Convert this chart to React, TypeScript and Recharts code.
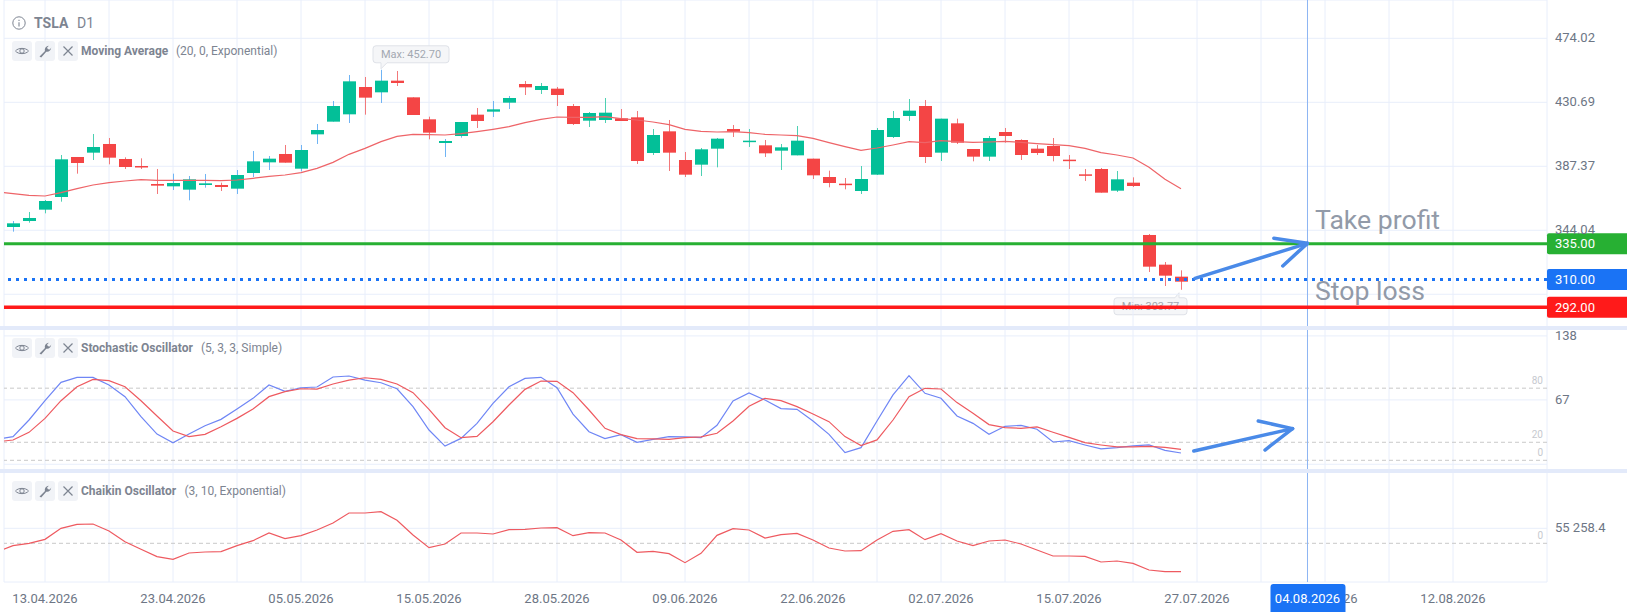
import React from 'react';
import { ComposedChart, Bar, Line, XAxis, YAxis, CartesianGrid, ReferenceLine, ReferenceDot } from 'recharts';

const openPrices = [346.26,350.32,358.00,366.57,393.66,396.59,402.46,392.30,387.56,375.38,373.79,371.54,374.70,374.70,372.22,382.82,390.04,395.69,385.75,409.00,417.58,422.54,441.05,437.44,445.34,434.05,419.16,403.13,407.87,422.32,424.35,430.44,443.08,439.02,439.92,428.18,418.25,418.71,419.83,420.51,396.36,411.03,391.62,388.46,399.30,412.61,403.81,401.55,397.94,394.78,392.53,380.11,375.60,370.63,381.69,407.19,421.42,428.18,396.59,416.45,399.07,393.88,410.58,405.16,399.30,401.10,391.85,381.92,385.53,370.86,376.28,340.85,320.76,312.64];
const closePrices = [348.75,352.36,363.86,392.08,389.59,400.43,393.20,386.88,387.11,374.25,376.05,378.53,375.83,373.35,381.47,390.72,392.52,389.82,398.39,411.93,428.18,444.88,433.83,445.34,443.76,422.09,410.13,404.48,417.35,418.03,425.93,433.60,440.82,441.73,435.63,415.98,423.44,423.67,418.03,390.95,408.55,396.59,381.69,398.85,406.07,410.80,404.71,396.14,400.20,404.71,381.24,376.05,374.70,378.76,411.93,420.06,425.03,393.66,419.61,403.36,393.88,406.52,407.87,395.01,396.36,394.33,391.17,381.24,369.51,378.53,374.02,319.41,313.31,309.25];
const highPrices = [350.32,356.42,364.54,395.01,393.66,409.23,406.52,393.43,392.75,385.53,382.37,380.79,382.15,376.28,384.85,397.72,394.33,401.78,401.78,416.00,431.57,449.17,447.82,452.70,451.88,434.05,420.96,405.84,417.35,426.83,431.57,434.95,445.11,443.76,441.05,429.54,424.12,433.60,426.15,424.80,412.61,418.71,397.04,399.75,406.52,415.32,412.61,405.16,402.46,414.64,392.53,384.40,379.44,387.56,413.29,424.80,432.92,432.25,419.61,419.61,399.07,407.87,413.29,405.62,401.78,406.52,395.01,385.53,386.21,384.18,379.89,341.52,322.56,316.92];
const lowPrices = [343.10,349.19,355.51,363.41,382.37,391.62,388.69,385.53,385.53,368.61,371.31,364.32,372.89,370.63,368.61,380.11,384.85,389.82,383.95,402.46,417.58,416.67,422.32,430.22,441.72,422.09,405.62,393.66,406.74,413.29,420.74,426.15,435.63,436.31,428.18,415.32,413.97,416.67,418.03,388.92,395.01,384.18,380.11,380.79,386.66,407.19,400.43,393.66,384.85,394.78,378.76,373.12,371.76,368.61,381.47,406.52,418.03,389.59,390.95,402.46,390.72,390.95,403.36,391.62,395.01,390.72,385.53,377.41,369.51,369.96,373.35,315.79,306.31,303.77];
const blueWickCandles = [0,10,11,12,14,15,16,18,19,20,21,23,27,28,30,31];

// index -1 is the bar just left of the visible window
const movingAverage = [370.19,368.83,367.70,367.25,369.51,372.22,374.70,376.28,377.41,378.31,377.86,377.86,377.86,377.86,377.63,378.08,379.21,380.56,381.47,383.05,385.98,390.04,395.46,399.52,404.04,407.65,409.00,408.78,408.55,409.45,410.81,412.39,414.19,416.90,419.16,420.74,420.51,420.51,420.96,419.61,418.71,417.35,415.55,412.39,411.03,410.58,410.81,410.13,409.00,408.55,408.10,406.29,403.36,400.65,398.17,399.75,401.78,404.04,403.36,404.71,404.04,403.59,403.81,404.26,403.59,402.68,402.00,401.33,399.52,396.59,395.01,392.98,386.66,378.53,372.22];
const stochK = [23.2,26.2,44.7,66.1,86.5,92,92,83.5,70.6,48.4,29.1,19.5,29.1,38.4,45.4,56.9,68.7,83.5,76.5,80.5,81.3,92.4,93.5,89,86,79.4,59.5,33.6,15.8,24.3,41,63.2,81.6,90.9,92,80.5,51.3,31.7,24,28.5,20,23.3,26.3,25.9,25.1,38.8,65.8,74.7,66.9,57.3,56.6,43.6,28.8,8.5,14,43.6,72.5,93.9,74.3,68.8,49.2,41,28.8,37.7,38.8,34.4,20.3,21.8,17,12.6,14,15.9,17,11.1,8.1];
const stochD = [20.6,22.5,31,46.5,66.1,81.6,89.8,88.3,81.6,66.1,49.1,32.5,26.2,28.8,37.3,46.5,56.9,70.6,76.1,79.4,79,84.6,89,91.6,89.8,84.6,75,56.5,36.2,25.1,26.5,42.8,61.3,78.7,87.9,87.6,75,55.8,35.5,28.5,24,23.7,23.3,25.1,25.9,30,43.6,59.9,68.8,66.2,59.5,51.4,42.9,26.3,16.3,22.6,44.7,70.6,79.9,79.1,64,52.1,39.6,36.2,35.5,37,31.1,25.5,19.6,17,14.8,14.8,15.5,14.4,12.2];
const chaikin = [-30800,-8700,-100,14600,55100,69900,71100,45300,6000,-22200,-49200,-59100,-35700,-32100,-30800,-8700,9700,37900,17100,28100,49000,74800,111600,111600,116500,84600,30600,-16100,-2600,37900,37900,34300,50200,51500,56400,57600,28100,39200,37900,12200,-33300,-29600,-38200,-71300,-37000,29300,53900,49000,19500,31800,36700,12200,-17300,-28400,-27100,12200,44100,50200,13400,35500,8500,-8700,8500,12200,-2600,-24700,-46800,-46800,-48000,-68900,-65200,-73800,-98400,-104500,-104500];

const xTicks = [-0.5625,2,6,10,14,18,22,26,30,34,38,42,46,50,54,58,62,66,70,74,78,82,86,90,95.875];
const dateLabels: Record<number,string> = {2:'13.04.2026',10:'23.04.2026',18:'05.05.2026',26:'15.05.2026',34:'28.05.2026',42:'09.06.2026',50:'22.06.2026',58:'02.07.2026',66:'15.07.2026',74:'27.07.2026',82:'04.08.2026',90:'12.08.2026'};
const priceTicks = [300.71,344.04,387.37,430.69,474.02];
const priceTickLabels = ['','344.04','387.37','430.69','474.02'];
const stochTicks = [-4.4,67,138];
const chaikinTicks = [55258.4];
const priceLevels = [
  {value:335,label:'335.00',color:'#27b033',dash:undefined as string|undefined,width:3},
  {value:310.7,label:'310.00',color:'#1a73f5',dash:'3 5',width:3},
  {value:292,label:'292.00',color:'#ff1a1a',dash:undefined as string|undefined,width:3.5},
];
const crosshairIndex = 80.906;
const crosshairLabel = '04.08.2026';
const maxLabel = 'Max: 452.70';
const minLabel = 'Min: 303.77';
const mainArrow = [[{x:73.875,y:311.5},{x:80.9,y:335.2}],[{x:78.8,y:338.6},{x:80.9,y:335.2}],[{x:79.36,y:319.9},{x:80.9,y:335.2}]];
const stochArrow = [[{x:73.8,y:10.3},{x:79.97,y:35.1}],[{x:77.83,y:43.6},{x:79.97,y:35.1}],[{x:78.25,y:11.4},{x:79.97,y:35.1}]];

const rows = movingAverage.map((ma,k)=>{
  const i=k-1;
  const row:any={index:i,ma,k:stochK[k],d:stochD[k],chaikin:chaikin[k]};
  if(i>=0){row.range=[lowPrices[i],highPrices[i]];row.open=openPrices[i];row.close=closePrices[i];row.high=highPrices[i];row.low=lowPrices[i];row.blue=blueWickCandles.includes(i);}
  return row;
});

const FONT='Roboto, sans-serif';
const GRID='#e8eefb';
const TEXT='#6d7685';
const RED='#f44545';
const GREEN='#03bf98';
const X_DOMAIN:[number,number]=[-0.5625,95.875];
const W=1627;
const PRICE_DOMAIN:[number,number]=[277.88,499.95];
const CHAIKIN_DOMAIN:[number,number]=[-142571,266353];

function Candle(p:any){
  const {x,y,width,height,payload}=p;
  if(!payload||payload.range==null||height==null)return null;
  const top=Math.min(y,y+height),h=Math.abs(height);
  const span=payload.high-payload.low||1;
  const py=(v:number)=>top+(payload.high-v)/span*h;
  const cx=Math.round(x+width/2);
  const up=payload.close>=payload.open;
  const c=up?GREEN:RED;
  const wick=payload.blue?'#6fb4f4':(up?'#4dd0b2':'#f2787a');
  const a=py(Math.max(payload.open,payload.close)),b=py(Math.min(payload.open,payload.close));
  return <g>
    <line x1={cx+0.5} x2={cx+0.5} y1={top} y2={top+h} stroke={wick} strokeWidth={1}/>
    <rect x={cx-6} y={a} width={13} height={Math.max(b-a,1.5)} fill={c}/>
  </g>;
}

const PriceTick=(p:any)=>{
  const n=priceTicks.indexOf(p.payload.value);
  return <text x={p.x} y={p.y+3.6} fontFamily={FONT} fontSize={13} fill={TEXT} textAnchor="start">{priceTickLabels[n]}</text>;
};
const StochTick=(p:any)=>p.payload.value<0?<g/>:<text x={p.x} y={p.y+3.6} fontFamily={FONT} fontSize={13} fill={TEXT} textAnchor="start">{p.payload.value}</text>;
const ChaikinTick=(p:any)=><text x={p.x} y={p.y+3.6} fontFamily={FONT} fontSize={13} fill={TEXT} textAnchor="start">55 258.4</text>;
const DateTick=(p:any)=>{
  const t=dateLabels[p.payload.value];
  return t?<text x={p.x} y={599+4-471} fontFamily={FONT} fontSize={13} fill={TEXT} textAnchor="middle">{t}</text>:<g/>;
};

const levelBadge=(label:string,color:string)=>(p:any)=>{
  const vb=p.viewBox;
  const x=vb.x+vb.width,y=vb.y;
  return <g>
    <path d={`M${x+2} ${y-10.5}H${W}V${y+10.5}H${x+2}a2 2 0 0 1 -2 -2V${y-8.5}a2 2 0 0 1 2 -2z`} fill={color}/>
    <text x={x+8} y={y+4.5} fontFamily={FONT} fontSize={13} fill="#fff">{label}</text>
  </g>;
};
const crossBadge=(p:any)=>{
  const x=p.viewBox.x;
  return <g>
    <path d={`M${x-37} 141V116a3 3 0 0 1 3 -3H${x+35}a3 3 0 0 1 3 3V141z`} fill="#1a73f5"/>
    <text x={x} y={132} textAnchor="middle" fontFamily={FONT} fontSize={13} fill="#fff">{crosshairLabel}</text>
  </g>;
};
const levelTag=(t:string)=>({value:t,position:'insideBottomRight' as const,fontSize:10,fontFamily:FONT,fill:'#c6c9cf',offset:4});

const bubble=(text:string,kind:'max'|'min')=>(p:any)=>{
  const {cx,cy}=p;
  if(kind==='max'){
    const l=cx-8,r=cx+68,t=cy-24,b=cy-7;
    return <g>
      <path d={`M${l+3} ${t}H${r-3}a3 3 0 0 1 3 3V${b-3}a3 3 0 0 1 -3 3H${l+14}L${l+8} ${b+6}L${l+8} ${b}H${l+3}a3 3 0 0 1 -3 -3V${t+3}a3 3 0 0 1 3 -3z`} fill="#f5f6f8" stroke="#dfe2e8"/>
      <text x={(l+r)/2} y={t+12.5} textAnchor="middle" fontSize={11} fontFamily={FONT} fill="#a3a8b1">{text}</text>
    </g>;
  }
  const l=cx-67,r=cx+6,t=cy+8,b=cy+25;
  return <g>
    <path d={`M${l+3} ${t}H${cx-6}L${cx-2} ${t-5}L${cx-2} ${t}H${r-3}a3 3 0 0 1 3 3V${b-3}a3 3 0 0 1 -3 3H${l+3}a3 3 0 0 1 -3 -3V${t+3}a3 3 0 0 1 3 -3z`} fill="#f5f6f8" stroke="#dfe2e8"/>
    <text x={(l+r)/2} y={t+12.5} textAnchor="middle" fontSize={11} fontFamily={FONT} fill="#a3a8b1">{text}</text>
  </g>;
};

const Eye=()=> <svg width="20" height="20" viewBox="0 0 20 20"><path d="M3.5 10C6 6.5 14 6.5 16.5 10C14 13.5 6 13.5 3.5 10Z" fill="none" stroke="#7d8491" strokeWidth="1"/><circle cx="10" cy="10" r="2.2" fill="none" stroke="#7d8491" strokeWidth="1"/></svg>;
const Wrench=()=> <svg width="20" height="20" viewBox="0 0 20 20"><path d="M4.5 15.5L10 10C9.4 8 10.5 5.2 13.8 4.8L12 6.8L13 8.3L15 8.4L16.2 6.6C16.2 9.6 13.6 11.2 11.3 10.7L6.2 16.4Z" fill="#7d8491"/></svg>;
const Cross=()=> <svg width="20" height="20" viewBox="0 0 20 20"><path d="M5.5 5.5L14.5 14.5M14.5 5.5L5.5 14.5" stroke="#7d8491" strokeWidth="1.2"/></svg>;

const btn=(x:number,y:number,icon:React.ReactNode)=> <div style={{position:'absolute',left:x,top:y,width:20,height:20,background:'#f1f3f7',borderRadius:3}}>{icon}</div>;
const label=(x:number,cy:number,t:string,opt:any={})=> <div style={{position:'absolute',left:x,top:cy-10,height:20,lineHeight:'20px',whiteSpace:'nowrap',fontFamily:FONT,fontSize:12,color:'#7d8491',...opt}}>{t}</div>;
const toolbar=(y:number,name:string,args:string,argsX:number)=> <>
  {btn(12,y,<Eye/>)}{btn(35,y,<Wrench/>)}{btn(58,y,<Cross/>)}
  {label(81,y+10,name,{fontWeight:700})}
  {label(argsX,y+10,args)}
</>;

const edge={position:'absolute' as const,left:0,width:W,height:4,background:'#e3eafa'};
const layer=(top:number)=>({position:'absolute' as const,left:0,top});

export default function App(){
  const common={data:rows};
  return <div style={{position:'absolute',left:0,top:0,width:W,height:612,background:'#fff',overflow:'hidden'}}>
    {/* the Min bubble sits underneath the price levels */}
    <div style={layer(0)}>
      <ComposedChart {...common} width={W} height={328} margin={{top:0,right:0,bottom:0,left:4}}>
        <XAxis dataKey="index" type="number" domain={X_DOMAIN} hide allowDataOverflow/>
        <YAxis orientation="right" width={80} domain={PRICE_DOMAIN} hide={false} tick={false} axisLine={false} tickLine={false} allowDataOverflow/>
        <ReferenceDot x={73} y={303.77} r={0} shape={bubble(minLabel,'min')}/>
      </ComposedChart>
    </div>
    <div style={layer(0)}>
      <ComposedChart {...common} width={W} height={328} margin={{top:0,right:0,bottom:0,left:4}}>
        <CartesianGrid stroke={GRID} strokeWidth={1}/>
        <XAxis dataKey="index" type="number" domain={X_DOMAIN} ticks={xTicks} hide allowDataOverflow/>
        <YAxis orientation="right" width={80} domain={PRICE_DOMAIN} ticks={priceTicks} tick={PriceTick} tickSize={0} tickMargin={8} axisLine={false} tickLine={false} interval={0} allowDataOverflow/>
        <Bar dataKey="range" barSize={13} shape={Candle} isAnimationActive={false}/>
        <Line dataKey="ma" stroke="#ee6468" strokeWidth={1.2} dot={false} isAnimationActive={false}/>
        <ReferenceDot x={23} y={452.7} r={0} shape={bubble(maxLabel,'max')}/>
        <ReferenceLine x={crosshairIndex} stroke="#8db6f3" strokeWidth={1}/>
        {priceLevels.map(l=><ReferenceLine key={l.label} y={l.value} stroke={l.color} strokeWidth={l.width} strokeDasharray={l.dash} label={levelBadge(l.label,l.color)}/>)}
        {mainArrow.map((s,n)=><ReferenceLine key={n} segment={s} stroke="#4a8ae8" strokeWidth={3.5} strokeLinecap="round"/>)}
      </ComposedChart>
    </div>
    <div style={layer(328)}>
      <ComposedChart {...common} width={W} height={143} margin={{top:0,right:0,bottom:0,left:4}}>
        <CartesianGrid stroke={GRID} strokeWidth={1}/>
        <XAxis dataKey="index" type="number" domain={X_DOMAIN} ticks={xTicks} hide allowDataOverflow/>
        <YAxis orientation="right" width={80} domain={[-11.87,146.77]} ticks={stochTicks} tick={StochTick} tickSize={0} tickMargin={8} axisLine={false} tickLine={false} interval={0} allowDataOverflow/>
        <ReferenceLine y={80} stroke="#c9c9c9" strokeDasharray="4 3" label={levelTag('80')}/>
        <ReferenceLine y={20} stroke="#c9c9c9" strokeDasharray="4 3" label={levelTag('20')}/>
        <ReferenceLine y={0} stroke="#c9c9c9" strokeDasharray="4 3" label={levelTag('0')}/>
        <ReferenceLine x={crosshairIndex} stroke="#8db6f3" strokeWidth={1}/>
        <Line dataKey="k" stroke="#6f86f5" strokeWidth={1.2} dot={false} isAnimationActive={false}/>
        <Line dataKey="d" stroke="#ee5a60" strokeWidth={1.2} dot={false} isAnimationActive={false}/>
        {stochArrow.map((s,n)=><ReferenceLine key={n} segment={s} stroke="#4a8ae8" strokeWidth={3.5} strokeLinecap="round"/>)}
      </ComposedChart>
    </div>
    <div style={layer(471)}>
      <ComposedChart {...common} width={W} height={141} margin={{top:0,right:0,bottom:0,left:4}}>
        <CartesianGrid stroke={GRID} strokeWidth={1}/>
        <XAxis dataKey="index" type="number" domain={X_DOMAIN} ticks={xTicks} tick={DateTick} height={30} axisLine={false} tickLine={false} interval={0} allowDataOverflow/>
        <YAxis orientation="right" width={80} domain={CHAIKIN_DOMAIN} ticks={chaikinTicks} tick={ChaikinTick} tickSize={0} tickMargin={8} axisLine={false} tickLine={false} interval={0} allowDataOverflow/>
        <ReferenceLine y={0} stroke="#c9c9c9" strokeDasharray="4 3" label={levelTag('0')}/>
        <Line dataKey="chaikin" stroke="#ee5a60" strokeWidth={1.2} dot={false} isAnimationActive={false}/>
      </ComposedChart>
    </div>
    {/* crosshair and its date flag lie over the date labels */}
    <div style={layer(471)}>
      <ComposedChart {...common} width={W} height={141} margin={{top:0,right:0,bottom:0,left:4}}>
        <XAxis dataKey="index" type="number" domain={X_DOMAIN} tick={false} height={30} axisLine={false} tickLine={false} allowDataOverflow/>
        <YAxis orientation="right" width={80} domain={CHAIKIN_DOMAIN} tick={false} axisLine={false} tickLine={false} allowDataOverflow/>
        <ReferenceLine x={crosshairIndex} stroke="#8db6f3" strokeWidth={1} label={crossBadge}/>
      </ComposedChart>
    </div>
    <div style={{...edge,top:326}}/>
    <div style={{...edge,top:469}}/>
    <svg style={{position:'absolute',left:12,top:16}} width="14" height="14" viewBox="0 0 14 14"><circle cx="7" cy="7" r="6.2" fill="none" stroke="#7d8491" strokeWidth="1"/><path d="M7 6.2V10.4M7 3.8V4.9" stroke="#7d8491" strokeWidth="1.1"/></svg>
    {label(34,23,'TSLA',{fontWeight:700,fontSize:14})}
    {label(77,23,'D1',{fontSize:14})}
    {toolbar(41,'Moving Average','(20, 0, Exponential)',176)}
    {toolbar(338,'Stochastic Oscillator','(5, 3, 3, Simple)',201)}
    {toolbar(481,'Chaikin Oscillator','(3, 10, Exponential)',184.5)}
    {label(1315,219.5,'Take profit',{fontSize:26.6,color:'#929aa8'})}
    {label(1315,290.5,'Stop loss',{fontSize:26.6,color:'#929aa8'})}
  </div>;
}
